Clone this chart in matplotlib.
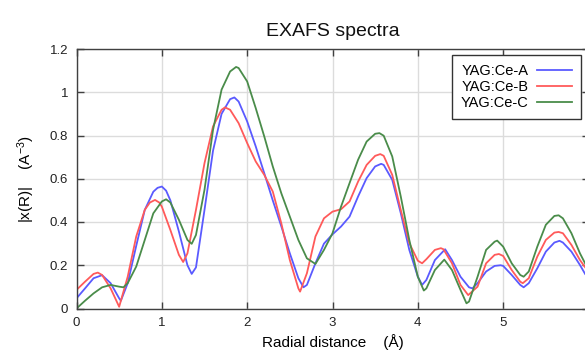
import numpy as np
import matplotlib
matplotlib.use("Agg")
import matplotlib.pyplot as plt

plt.rcParams['font.family'] = ['Liberation Sans', 'DejaVu Sans']
plt.rcParams['mathtext.fontset'] = 'custom'
plt.rcParams['mathtext.rm'] = 'Liberation Sans'
plt.rcParams['mathtext.it'] = 'Liberation Sans'

# values (R in Angstrom, |chi(R)|)
r_a = [0.0, 0.1, 0.2, 0.3, 0.4, 0.5, 0.52, 0.6, 0.7, 0.8, 0.9, 0.95, 1.0, 1.05, 1.1, 1.2, 1.3, 1.35, 1.4, 1.5,
       1.6, 1.7, 1.8, 1.85, 1.9, 2.0, 2.1, 2.2, 2.3, 2.4, 2.5, 2.6, 2.66, 2.7, 2.8, 2.9, 3.0,
       3.1, 3.2, 3.3, 3.4, 3.5, 3.57, 3.6, 3.7, 3.8, 3.9, 4.0, 4.05, 4.1, 4.2, 4.32, 4.4, 4.5,
       4.6, 4.64, 4.7, 4.8, 4.9, 4.97, 5.0, 5.1, 5.2, 5.24, 5.3, 5.4, 5.5, 5.6, 5.66, 5.7, 5.8,
       5.9, 5.96]
chi_a = [0.047, 0.093, 0.14, 0.154, 0.117, 0.047, 0.036, 0.117, 0.29, 0.456, 0.54, 0.558, 0.564, 0.545, 0.50,
         0.356, 0.20, 0.16, 0.19, 0.456, 0.73, 0.90, 0.968, 0.976, 0.957, 0.865, 0.75, 0.626,
         0.50, 0.38, 0.255, 0.14, 0.098, 0.109, 0.209, 0.30, 0.343, 0.379, 0.425, 0.518, 0.603,
         0.657, 0.669, 0.664, 0.595, 0.441, 0.271, 0.147, 0.109, 0.132, 0.224, 0.274, 0.224,
         0.147, 0.098, 0.093, 0.117, 0.171, 0.197, 0.20, 0.197, 0.155, 0.109, 0.098, 0.117,
         0.186, 0.263, 0.305, 0.313, 0.305, 0.263, 0.201, 0.16]

r_b = [0.0, 0.1, 0.2, 0.25, 0.3, 0.4, 0.5, 0.6, 0.7, 0.8, 0.86, 0.92, 0.97, 1.0, 1.1, 1.2, 1.25, 1.3, 1.4,
       1.5, 1.6, 1.7, 1.74, 1.8, 1.9, 2.0, 2.1, 2.2, 2.3, 2.4, 2.5, 2.6, 2.62, 2.7, 2.8, 2.9,
       3.0, 3.1, 3.2, 3.3, 3.4, 3.5, 3.56, 3.6, 3.7, 3.8, 3.9, 4.0, 4.05, 4.1, 4.2, 4.27, 4.3,
       4.4, 4.5, 4.59, 4.7, 4.8, 4.9, 4.95, 5.0, 5.1, 5.2, 5.23, 5.3, 5.4, 5.5, 5.6, 5.65, 5.7,
       5.8, 5.9, 5.96]
chi_b = [0.086, 0.124, 0.16, 0.166, 0.155, 0.093, 0.008, 0.147, 0.333, 0.456, 0.49, 0.502, 0.49, 0.471,
         0.363, 0.248, 0.215, 0.255, 0.456, 0.672, 0.842, 0.919, 0.93, 0.919, 0.857, 0.765,
         0.68, 0.618, 0.541, 0.394, 0.224, 0.093, 0.078, 0.163, 0.333, 0.417, 0.448, 0.459,
         0.495, 0.587, 0.664, 0.706, 0.714, 0.706, 0.618, 0.456, 0.302, 0.221, 0.209, 0.228,
         0.271, 0.279, 0.274, 0.209, 0.109, 0.062, 0.101, 0.209, 0.248, 0.252, 0.243, 0.178,
         0.124, 0.117, 0.14, 0.24, 0.317, 0.351, 0.354, 0.348, 0.294, 0.224, 0.191]

r_c = [0.0, 0.1, 0.2, 0.3, 0.4, 0.5, 0.55, 0.6, 0.7, 0.8, 0.9, 1.0, 1.05, 1.1, 1.2, 1.3, 1.35,
       1.4, 1.5, 1.6, 1.7, 1.8, 1.87, 1.9, 2.0, 2.1, 2.2, 2.3, 2.4, 2.5, 2.6, 2.7, 2.8, 2.9,
       3.0, 3.1, 3.2, 3.3, 3.4, 3.5, 3.55, 3.6, 3.7, 3.8, 3.9, 4.0, 4.07, 4.1, 4.2, 4.31, 4.4,
       4.5, 4.57, 4.6, 4.7, 4.8, 4.9, 4.93, 5.0, 5.1, 5.2, 5.24, 5.3, 5.4, 5.5, 5.6, 5.65, 5.7,
       5.8, 5.9, 5.96]
chi_c = [0.0, 0.036, 0.07, 0.098, 0.109, 0.101, 0.098, 0.117, 0.194, 0.317, 0.44, 0.495, 0.505,
         0.49, 0.41, 0.317, 0.299, 0.34, 0.549, 0.826, 1.012, 1.096, 1.117, 1.112, 1.05, 0.927,
         0.796, 0.657, 0.533, 0.425, 0.317, 0.232, 0.206, 0.271, 0.348, 0.471, 0.58, 0.688,
         0.772, 0.808, 0.811, 0.799, 0.703, 0.518, 0.317, 0.147, 0.083, 0.093, 0.178, 0.226,
         0.178, 0.086, 0.024, 0.032, 0.147, 0.271, 0.309, 0.314, 0.286, 0.209, 0.155, 0.147,
         0.171, 0.286, 0.387, 0.428, 0.431, 0.417, 0.348, 0.255, 0.209]

names = ["YAG:Ce-A", "YAG:Ce-B", "YAG:Ce-C"]
colors = ["#5a5aff", "#ff5a5a", "#4a8c4a"]

fig = plt.figure(figsize=(5.85, 3.58), dpi=100)
ax = fig.add_axes([76.5 / 585, 49.5 / 358, 512 / 585, 259.5 / 358])

for r, chi, name, c in zip([r_a, r_b, r_c], [chi_a, chi_b, chi_c], names, colors):
    ax.plot(r, chi, color=c, lw=1.3, label=name, solid_joinstyle="round")

ax.set_xlim(0, 6)
ax.set_ylim(0, 1.2)
ax.set_xticks(np.arange(0, 6, 1))
ax.set_yticks(np.arange(0, 1.21, 0.2))
ax.set_yticklabels(["0", "0.2", "0.4", "0.6", "0.8", "1", "1.2"])
ax.grid(True, color="#dcdcdc", lw=1)
ax.set_axisbelow(True)
for s in ax.spines.values():
    s.set_color("#404040")
    s.set_linewidth(1)
ax.tick_params(direction="in", top=True, right=True, length=5, width=1,
               color="#404040", labelsize=9.5, labelcolor="#222222", pad=6)

ax.set_title("EXAFS spectra", fontsize=14, pad=9, color="#111111")
ax.set_xlabel("Radial distance    (Å)", fontsize=11, labelpad=4)
ax.set_ylabel("|x(R)|    (A$^{-3}$)", fontsize=11, labelpad=9)

leg = ax.legend(loc="upper right", bbox_to_anchor=(580.7 / 585, 1 - 55 / 358),
                bbox_transform=fig.transFigure, borderaxespad=0, markerfirst=False,
                fontsize=10.5, fancybox=False, framealpha=1, handlelength=2.4,
                labelspacing=0.15, borderpad=0.6, handletextpad=0.6)
leg.get_frame().set_edgecolor("#333333")
leg.get_frame().set_linewidth(1)

fig.savefig("out.png", dpi=100)
